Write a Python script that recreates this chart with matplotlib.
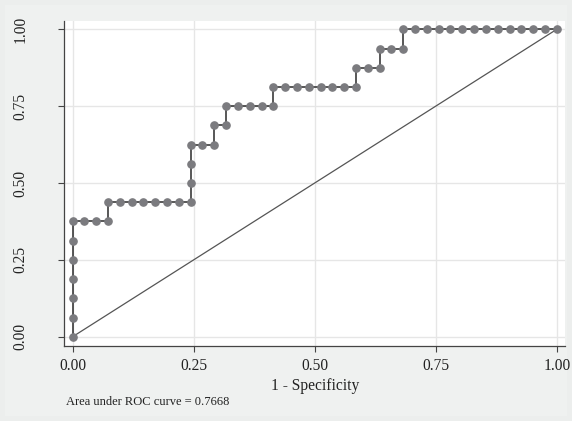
import matplotlib
matplotlib.use("Agg")
import matplotlib.pyplot as plt
from matplotlib.patches import Rectangle
import numpy as np

# Data: ROC points as counts of false positives (out of 41 negatives)
# and true positives (out of 16 positives)
n_neg = 41
n_pos = 16
fp_counts = [0, 0, 0, 0, 0, 0, 0, 1, 2, 3, 3, 4, 5, 6, 7, 8, 9, 10, 10, 10, 10,
             11, 12, 12, 13, 13, 14, 15, 16, 17, 17, 18, 19, 20, 21, 22, 23, 24,
             24, 25, 26, 26, 27, 28, 28, 29, 30, 31, 32, 33, 34, 35, 36, 37, 38,
             39, 40, 41]
tp_counts = [0, 1, 2, 3, 4, 5, 6, 6, 6, 6, 7, 7, 7, 7, 7, 7, 7, 7, 8, 9, 10,
             10, 10, 11, 11, 12, 12, 12, 12, 12, 13, 13, 13, 13, 13, 13, 13, 13,
             14, 14, 14, 15, 15, 15, 16, 16, 16, 16, 16, 16, 16, 16, 16, 16, 16,
             16, 16, 16]
auc_text = "Area under ROC curve = 0.7668"
ticks = [0.0, 0.25, 0.5, 0.75, 1.0]
tick_labels = ["0.00", "0.25", "0.50", "0.75", "1.00"]
xlabel = "1 - Specificity"

fpr = np.array(fp_counts) / n_neg
tpr = np.array(tp_counts) / n_pos

plt.rcParams['font.family'] = ['Liberation Serif', 'DejaVu Serif']

W, H = 572, 421
fig = plt.figure(figsize=(W / 100, H / 100), dpi=100)
fig.patch.set_facecolor('#eceeed')
fig.patches.append(Rectangle((5 / W, 5 / H), (W - 10) / W, (H - 10) / H,
                             transform=fig.transFigure, facecolor='#eff1f0',
                             edgecolor='none', zorder=-10))

ax = fig.add_axes([64.3 / W, 1 - 345.7 / H, (565 - 64.3) / W, (345.7 - 21.0) / H])
ax.set_facecolor('white')
ax.set_xlim(-0.017, 1.017)
ax.set_ylim(-0.029, 1.027)

ax.set_xticks(ticks)
ax.set_xticklabels(tick_labels)
ax.set_yticks(ticks)
ax.set_yticklabels(tick_labels, rotation=90, va='center')
ax.grid(True, color='#e6e6e6', linewidth=1.0, zorder=0)
ax.set_axisbelow(True)

for s in ['top', 'right']:
    ax.spines[s].set_visible(False)
for s in ['left', 'bottom']:
    ax.spines[s].set_color('#444444')
    ax.spines[s].set_linewidth(0.9)

ax.tick_params(axis='both', length=4, width=0.8, color='#444444', labelsize=11.2,
               labelcolor='#222222')
ax.tick_params(axis='x', pad=5)
ax.tick_params(axis='y', pad=22)

# reference diagonal
ax.plot([0, 1], [0, 1], color='#555555', linewidth=0.9, zorder=2)
# ROC curve
ax.plot(fpr, tpr, color='#2a2a2a', linewidth=1.1, marker='o', markersize=5.2,
        markerfacecolor='#7b7b7f', markeredgecolor='#7b7b7f', zorder=3, clip_on=False)

ax.set_xlabel(xlabel, fontsize=11.2, color='#222222', labelpad=2.5)

fig.text(66 / W, 1 - 402 / H, auc_text, fontsize=9, color='#222222',
         ha='left', va='center')

fig.savefig('out.png', dpi=100, facecolor=fig.get_facecolor())
